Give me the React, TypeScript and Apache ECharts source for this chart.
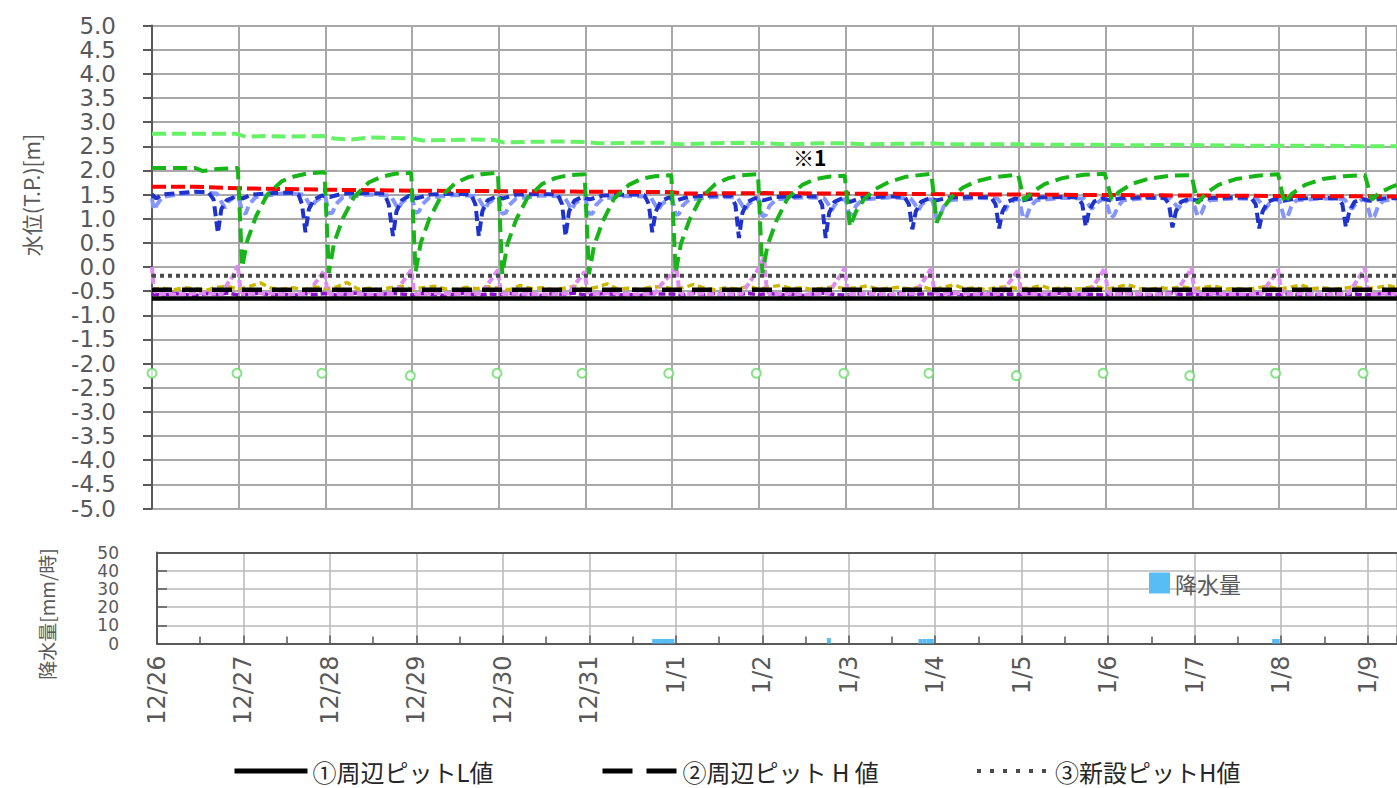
import React, { useEffect, useRef } from "react";
import * as echarts from "echarts";

// ---- categories / ticks ----
const dayLabels = ["12/26", "12/27", "12/28", "12/29", "12/30", "12/31", "1/1", "1/2", "1/3", "1/4", "1/5", "1/6", "1/7", "1/8", "1/9"];
const X_MAX_TOP = 14.36;
const X_MAX_BOTTOM = 14.34;

// ---- threshold lines (legend items) ----
const nameL1 = "①周辺ピットL値";
const nameH2 = "②周辺ピット H 値";
const nameH3 = "③新設ピットH値";
const valueL1 = -0.65;
const valueH2 = -0.47;
const valueH3 = -0.18;

// ---- water level series: [day offset from 12/26 00:00, T.P. m] ----
const lightGreenData = [[0,2.76],[0.96,2.76],[1.0,2.74],[1.08,2.70],[1.3,2.71],[1.6,2.70],[1.98,2.71],[2.1,2.66],[2.3,2.64],[2.5,2.68],[2.8,2.67],[3.0,2.66],[3.12,2.62],[3.4,2.63],[3.7,2.64],[3.95,2.63],[4.05,2.58],[4.3,2.59],[4.7,2.60],[5.0,2.59],[5.15,2.56],[5.5,2.57],[5.9,2.57],[6.1,2.54],[6.4,2.56],[6.8,2.57],[7.1,2.56],[7.3,2.54],[7.7,2.56],[8.0,2.56],[8.2,2.54],[8.6,2.55],[9.0,2.56],[9.2,2.54],[9.6,2.54],[10.0,2.54],[10.4,2.53],[10.9,2.53],[11.3,2.52],[11.8,2.53],[12.2,2.52],[12.6,2.51],[13.0,2.51],[13.5,2.51],[14.0,2.50],[14.36,2.50]];

const darkGreenData = [
  [0,2.05],[0.5,2.05],[0.58,1.99],[0.66,2.0],[0.75,2.03],[0.99,2.05],
  [1.04,0.0],[1.1,0.55],[1.2,1.05],[1.33,1.5],[1.5,1.78],[1.65,1.88],[1.8,1.94],[1.99,1.96],
  [2.04,-0.12],[2.1,0.5],[2.2,1.0],[2.33,1.45],[2.5,1.75],[2.65,1.87],[2.8,1.93],[2.99,1.95],
  [3.04,-0.1],[3.1,0.5],[3.2,1.0],[3.33,1.45],[3.5,1.74],[3.65,1.86],[3.8,1.92],[3.99,1.95],
  [4.04,-0.15],[4.1,0.48],[4.2,0.98],[4.33,1.43],[4.5,1.72],[4.65,1.84],[4.8,1.9],[4.99,1.92],
  [5.04,-0.15],[5.1,0.45],[5.2,0.95],[5.33,1.42],[5.5,1.7],[5.65,1.83],[5.8,1.88],[5.99,1.9],
  [6.04,-0.12],[6.1,0.48],[6.2,0.98],[6.33,1.43],[6.5,1.72],[6.65,1.84],[6.8,1.9],[6.99,1.92],
  [7.04,-0.13],[7.1,0.45],[7.2,0.95],[7.33,1.42],[7.5,1.7],[7.65,1.82],[7.8,1.87],[7.99,1.89],
  [8.05,0.83],[8.12,1.15],[8.22,1.42],[8.35,1.62],[8.5,1.76],[8.7,1.87],[8.99,1.93],
  [9.05,0.92],[9.12,1.2],[9.22,1.45],[9.35,1.64],[9.5,1.77],[9.7,1.86],[9.99,1.91],
  [10.06,1.38],[10.15,1.55],[10.3,1.72],[10.5,1.84],[10.75,1.91],[10.99,1.93],
  [11.07,1.39],[11.15,1.55],[11.3,1.72],[11.5,1.83],[11.75,1.89],[11.99,1.9],
  [12.06,1.32],[12.15,1.52],[12.3,1.7],[12.5,1.82],[12.75,1.89],[12.99,1.92],
  [13.06,1.32],[13.15,1.52],[13.3,1.7],[13.5,1.82],[13.75,1.88],[13.99,1.9],
  [14.07,1.39],[14.15,1.53],[14.3,1.66],[14.36,1.7]
];

const redData = [[0,1.66],[0.5,1.66],[1,1.63],[2,1.6],[3,1.58],[4,1.57],[5,1.56],[6,1.55],[6.15,1.52],[7,1.53],[8,1.52],[9,1.51],[10,1.5],[11,1.49],[12,1.48],[13,1.47],[14.36,1.46]];

const darkBlueData = [
  [0,1.5],[0.05,1.42],[0.12,1.5],[0.3,1.53],[0.5,1.56],[0.65,1.55],[0.71,1.4],[0.76,0.7],[0.8,1.2],[0.86,1.38],[0.95,1.45],
  [1.05,1.42],[1.15,1.5],[1.4,1.53],[1.6,1.54],[1.69,1.5],[1.73,1.3],[1.77,0.72],[1.81,1.2],[1.87,1.4],[1.96,1.48],
  [2.05,1.45],[2.2,1.52],[2.5,1.53],[2.68,1.52],[2.73,1.3],[2.78,0.64],[2.82,1.15],[2.88,1.38],[2.96,1.47],
  [3.05,1.42],[3.2,1.5],[3.5,1.52],[3.68,1.5],[3.73,1.3],[3.77,0.64],[3.81,1.15],[3.87,1.38],[3.96,1.45],
  [4.05,1.42],[4.2,1.5],[4.5,1.51],[4.68,1.5],[4.73,1.3],[4.77,0.64],[4.81,1.15],[4.87,1.37],[4.96,1.45],
  [5.05,1.4],[5.2,1.48],[5.5,1.5],[5.68,1.49],[5.73,1.3],[5.77,0.72],[5.81,1.15],[5.87,1.36],[5.96,1.44],
  [6.05,1.38],[6.2,1.46],[6.5,1.48],[6.68,1.47],[6.73,1.28],[6.77,0.6],[6.81,1.12],[6.87,1.35],[6.96,1.43],
  [7.05,1.38],[7.2,1.45],[7.5,1.47],[7.68,1.46],[7.73,1.28],[7.77,0.6],[7.81,1.12],[7.87,1.35],[7.96,1.42],
  [8.05,1.35],[8.2,1.44],[8.5,1.46],[8.68,1.45],[8.73,1.3],[8.77,0.78],[8.81,1.15],[8.87,1.35],[8.96,1.42],
  [9.05,1.38],[9.2,1.44],[9.5,1.45],[9.68,1.44],[9.73,1.3],[9.77,0.8],[9.81,1.15],[9.87,1.35],[9.96,1.42],
  [10.05,1.38],[10.2,1.44],[10.5,1.45],[10.68,1.44],[10.73,1.3],[10.77,0.84],[10.81,1.18],[10.87,1.36],[10.96,1.42],
  [11.05,1.38],[11.2,1.43],[11.5,1.44],[11.68,1.43],[11.73,1.3],[11.77,0.82],[11.81,1.15],[11.87,1.35],[11.96,1.41],
  [12.05,1.38],[12.2,1.43],[12.5,1.44],[12.68,1.43],[12.73,1.3],[12.77,0.8],[12.81,1.15],[12.87,1.35],[12.96,1.41],
  [13.05,1.37],[13.2,1.42],[13.5,1.43],[13.68,1.42],[13.73,1.3],[13.77,0.83],[13.81,1.15],[13.87,1.35],[13.96,1.41],
  [14.05,1.37],[14.2,1.42],[14.36,1.43]
];

const lightBlueData = [
  [0,1.42],[0.02,1.18],[0.06,1.3],[0.12,1.45],[0.3,1.5],[0.55,1.55],[0.75,1.52],[0.8,1.35],[0.84,1.22],[0.88,1.35],[0.95,1.45],
  [1.0,1.45],[1.04,1.15],[1.08,1.1],[1.12,1.3],[1.2,1.45],[1.5,1.52],[1.75,1.5],[1.8,1.35],[1.84,1.22],[1.88,1.35],[1.96,1.45],
  [2.0,1.45],[2.04,1.12],[2.08,1.12],[2.12,1.3],[2.2,1.44],[2.5,1.5],[2.75,1.48],[2.8,1.33],[2.84,1.2],[2.88,1.33],[2.96,1.44],
  [3.0,1.44],[3.04,1.12],[3.08,1.15],[3.12,1.3],[3.2,1.44],[3.5,1.49],[3.75,1.47],[3.8,1.32],[3.84,1.2],[3.88,1.32],[3.96,1.43],
  [4.0,1.43],[4.04,1.1],[4.08,1.12],[4.12,1.28],[4.2,1.42],[4.5,1.48],[4.75,1.46],[4.8,1.32],[4.84,1.18],[4.88,1.32],[4.96,1.42],
  [5.0,1.42],[5.04,1.1],[5.08,1.1],[5.12,1.28],[5.2,1.42],[5.5,1.47],[5.75,1.45],[5.8,1.3],[5.84,1.18],[5.88,1.3],[5.96,1.41],
  [6.0,1.41],[6.04,1.08],[6.08,1.1],[6.12,1.27],[6.2,1.4],[6.5,1.45],[6.75,1.44],[6.8,1.3],[6.84,1.17],[6.88,1.3],[6.96,1.4],
  [7.0,1.4],[7.04,1.05],[7.08,1.08],[7.12,1.26],[7.2,1.4],[7.5,1.44],[7.75,1.43],[7.8,1.3],[7.84,1.17],[7.88,1.3],[7.96,1.4],
  [8.0,1.4],[8.04,1.08],[8.08,1.1],[8.12,1.27],[8.2,1.4],[8.5,1.44],[8.75,1.42],[8.8,1.3],[8.84,1.17],[8.88,1.3],[8.96,1.4],
  [9.0,1.4],[9.05,1.0],[9.09,1.05],[9.13,1.25],[9.2,1.38],[9.5,1.43],[9.75,1.42],[9.8,1.3],[9.84,1.17],[9.88,1.3],[9.96,1.4],
  [10.0,1.4],[10.05,1.0],[10.09,1.05],[10.13,1.25],[10.2,1.38],[10.5,1.43],[10.75,1.42],[10.8,1.3],[10.84,1.2],[10.88,1.3],[10.96,1.4],
  [11.0,1.4],[11.06,1.01],[11.1,1.08],[11.14,1.25],[11.2,1.38],[11.5,1.43],[11.75,1.42],[11.8,1.3],[11.84,1.22],[11.88,1.3],[11.96,1.4],
  [12.0,1.4],[12.06,1.05],[12.1,1.1],[12.14,1.27],[12.2,1.38],[12.5,1.42],[12.75,1.41],[12.8,1.3],[12.84,1.2],[12.88,1.3],[12.96,1.4],
  [13.0,1.4],[13.06,1.0],[13.1,1.05],[13.14,1.25],[13.2,1.38],[13.5,1.42],[13.75,1.41],[13.8,1.3],[13.84,1.2],[13.88,1.3],[13.96,1.4],
  [14.0,1.4],[14.06,1.0],[14.1,1.05],[14.14,1.25],[14.2,1.37],[14.36,1.41]
];

const violetData = [
  [0,0.0],[0.02,-0.45],[0.05,-0.55],[0.3,-0.57],[0.55,-0.54],[0.8,-0.56],[0.87,-0.35],[0.93,-0.2],[0.99,0.03],
  [1.02,-0.48],[1.05,-0.56],[1.3,-0.54],[1.55,-0.57],[1.8,-0.55],[1.87,-0.36],[1.93,-0.22],[1.99,-0.07],
  [2.02,-0.48],[2.05,-0.56],[2.3,-0.55],[2.55,-0.57],[2.8,-0.55],[2.87,-0.36],[2.93,-0.22],[2.99,-0.06],
  [3.02,-0.48],[3.05,-0.57],[3.3,-0.54],[3.55,-0.56],[3.8,-0.55],[3.87,-0.36],[3.93,-0.22],[3.99,-0.06],
  [4.02,-0.48],[4.05,-0.56],[4.3,-0.55],[4.55,-0.57],[4.8,-0.55],[4.87,-0.38],[4.93,-0.24],[4.99,-0.1],
  [5.02,-0.48],[5.05,-0.56],[5.3,-0.54],[5.55,-0.57],[5.8,-0.55],[5.88,-0.35],[5.97,-0.18],[6.05,0.0],
  [6.08,-0.48],[6.11,-0.56],[6.3,-0.55],[6.55,-0.57],[6.8,-0.55],[6.9,-0.3],[6.99,-0.05],[7.06,0.2],
  [7.09,-0.45],[7.12,-0.56],[7.3,-0.55],[7.55,-0.57],[7.8,-0.55],[7.87,-0.36],[7.93,-0.2],[7.99,-0.02],
  [8.02,-0.48],[8.05,-0.56],[8.3,-0.55],[8.55,-0.57],[8.8,-0.55],[8.87,-0.36],[8.93,-0.2],[8.99,-0.02],
  [9.02,-0.48],[9.05,-0.56],[9.3,-0.54],[9.55,-0.57],[9.8,-0.55],[9.87,-0.36],[9.93,-0.22],[9.99,-0.06],
  [10.02,-0.48],[10.05,-0.56],[10.3,-0.55],[10.55,-0.57],[10.8,-0.55],[10.87,-0.36],[10.93,-0.2],[10.99,-0.02],
  [11.02,-0.48],[11.05,-0.56],[11.3,-0.55],[11.55,-0.57],[11.8,-0.55],[11.87,-0.36],[11.93,-0.2],[11.99,-0.02],
  [12.02,-0.48],[12.05,-0.56],[12.3,-0.55],[12.55,-0.57],[12.8,-0.55],[12.87,-0.36],[12.93,-0.22],[12.99,-0.06],
  [13.02,-0.48],[13.05,-0.56],[13.3,-0.55],[13.55,-0.57],[13.8,-0.55],[13.87,-0.36],[13.93,-0.2],[13.99,-0.02],
  [14.02,-0.48],[14.05,-0.56],[14.36,-0.55]
];

// 3-hourly readings (step 0.125 day from 12/26 00:00)
const SAMPLE_STEP = 0.125;
const yellowValues = [
  -0.46,-0.44,-0.47,-0.43,-0.45,-0.48,-0.42,-0.40,
  -0.47,-0.40,-0.33,-0.44,-0.46,-0.43,-0.47,-0.41,
  -0.45,-0.42,-0.32,-0.46,-0.44,-0.47,-0.43,-0.40,
  -0.46,-0.43,-0.40,-0.45,-0.47,-0.42,-0.45,-0.41,
  -0.44,-0.47,-0.38,-0.45,-0.43,-0.47,-0.44,-0.40,
  -0.46,-0.42,-0.35,-0.46,-0.44,-0.47,-0.42,-0.41,
  -0.45,-0.43,-0.36,-0.44,-0.47,-0.43,-0.46,-0.40,
  -0.46,-0.41,-0.38,-0.45,-0.43,-0.47,-0.44,-0.41,
  -0.45,-0.43,-0.39,-0.46,-0.44,-0.42,-0.46,-0.40,
  -0.47,-0.42,-0.37,-0.45,-0.43,-0.47,-0.42,-0.41,
  -0.45,-0.44,-0.38,-0.46,-0.43,-0.46,-0.44,-0.40,
  -0.46,-0.42,-0.36,-0.44,-0.47,-0.43,-0.45,-0.41,
  -0.45,-0.43,-0.39,-0.46,-0.44,-0.47,-0.43,-0.40,
  -0.46,-0.42,-0.37,-0.45,-0.43,-0.46,-0.44,-0.41,
  -0.45,-0.43,-0.38,-0.44
];
const purpleValues = [
  -0.56,-0.58,-0.55,-0.57,-0.59,-0.55,-0.57,-0.54,
  -0.58,-0.56,-0.54,-0.58,-0.56,-0.59,-0.55,-0.57,
  -0.55,-0.58,-0.56,-0.54,-0.58,-0.57,-0.55,-0.56,
  -0.58,-0.55,-0.57,-0.59,-0.56,-0.54,-0.58,-0.56,
  -0.57,-0.55,-0.58,-0.56,-0.59,-0.55,-0.57,-0.54,
  -0.58,-0.56,-0.55,-0.58,-0.57,-0.59,-0.55,-0.56,
  -0.56,-0.58,-0.54,-0.57,-0.55,-0.58,-0.56,-0.55,
  -0.57,-0.55,-0.58,-0.56,-0.59,-0.56,-0.54,-0.57,
  -0.58,-0.56,-0.55,-0.57,-0.58,-0.55,-0.57,-0.56,
  -0.56,-0.58,-0.55,-0.59,-0.57,-0.55,-0.58,-0.56,
  -0.57,-0.55,-0.58,-0.56,-0.54,-0.58,-0.56,-0.57,
  -0.58,-0.56,-0.55,-0.57,-0.59,-0.56,-0.54,-0.57,
  -0.56,-0.58,-0.55,-0.57,-0.56,-0.58,-0.55,-0.57,
  -0.57,-0.55,-0.58,-0.56,-0.59,-0.55,-0.57,-0.56,
  -0.58,-0.56,-0.55,-0.57
];

const circleData = [[0,-2.2],[0.98,-2.2],[1.96,-2.2],[2.98,-2.25],[3.98,-2.2],[4.96,-2.2],[5.96,-2.2],[6.97,-2.2],[7.98,-2.2],[8.96,-2.2],[9.97,-2.25],[10.97,-2.2],[11.97,-2.25],[12.96,-2.2],[13.97,-2.2]];

// ---- rainfall [day offset, mm/h] ----
const rainName = "降水量";
const rainData = [[5.75,2.5],[5.79,2.5],[5.83,2.5],[5.875,2.5],[5.92,2.5],[5.96,2.5],[7.77,3],[8.83,2.5],[8.875,2.5],[8.92,2.5],[8.96,2.5],[12.92,2.5],[12.96,2.5]];

const FONT = "'DejaVu Sans', 'Noto Sans CJK JP', sans-serif";
const JP_FONT = "'Noto Sans CJK JP', sans-serif";
const AXIS_GRAY = "#595959";
const GRID_GRAY = "#a8a8a8";

function sampled(values: number[]) {
  return values.map((v, i) => [i * SAMPLE_STEP, v]);
}

function lineSeries(name: string, data: any[], color: string, width: number, type: any, z: number) {
  return {
    type: "line",
    name,
    data,
    xAxisIndex: 0,
    yAxisIndex: 0,
    symbol: "none",
    silent: true,
    z,
    itemStyle: { color },
    lineStyle: { color, width, type, cap: "butt" },
  };
}

export default function App() {
  const ref = useRef<HTMLDivElement>(null);
  useEffect(() => {
    if (!ref.current) return;
    const chart = echarts.init(ref.current, null, { renderer: "svg" });
    const dayFormatter = (v: number) => {
      const r = Math.round(v);
      return Math.abs(v - r) < 1e-6 && dayLabels[r] ? dayLabels[r] : "";
    };
    const legendText = { fontSize: 24, color: "#262626", fontFamily: JP_FONT };
    const option: any = {
      animation: false,
      textStyle: { fontFamily: FONT },
      grid: [
        { left: 152, top: 25.5, right: 0, height: 483 },
        { left: 157, top: 552.5, right: 0, height: 91 },
      ],
      xAxis: [
        {
          gridIndex: 0, type: "value", min: 0, max: X_MAX_TOP, interval: 1,
          axisLabel: { show: false }, axisTick: { show: false }, axisLine: { show: false },
          splitLine: { show: true, lineStyle: { color: GRID_GRAY, width: 2 } },
        },
        {
          gridIndex: 1, type: "value", min: 0, max: X_MAX_BOTTOM, interval: 1,
          axisLine: { show: true, onZero: false, lineStyle: { color: AXIS_GRAY, width: 2 } },
          axisTick: { show: true, inside: true, length: 8, lineStyle: { color: AXIS_GRAY, width: 1.5 } },
          minorTick: { show: true, splitNumber: 2, length: 7, lineStyle: { color: AXIS_GRAY, width: 1.5 } },
          splitLine: { show: true, lineStyle: { color: "#b8b8b8", width: 1.5 } },
          axisLabel: { rotate: 90, margin: 12, fontSize: 24, color: AXIS_GRAY, formatter: dayFormatter, showMaxLabel: false },
        },
        {
          gridIndex: 1, type: "value", position: "top", min: 0, max: X_MAX_BOTTOM,
          axisLine: { show: true, onZero: false, lineStyle: { color: AXIS_GRAY, width: 2 } },
          axisTick: { show: false }, axisLabel: { show: false }, splitLine: { show: false },
        },
      ],
      yAxis: [
        {
          gridIndex: 0, type: "value", min: -5, max: 5, interval: 0.5,
          axisLine: { show: true, lineStyle: { color: AXIS_GRAY, width: 2 } },
          axisTick: { show: true, length: 9, lineStyle: { color: AXIS_GRAY, width: 2 } },
          axisLabel: {
            margin: 36, fontSize: 23, color: AXIS_GRAY, padding: [0, 0, 7, 0],
            showMinLabel: true, showMaxLabel: true, hideOverlap: false,
            formatter: (v: number) => (Math.abs(v) < 1e-9 ? "0.0" : v.toFixed(1)),
          },
          splitLine: { show: true, lineStyle: { color: GRID_GRAY, width: 2 } },
        },
        {
          gridIndex: 1, type: "value", min: 0, max: 50, interval: 10,
          axisLine: { show: true, lineStyle: { color: AXIS_GRAY, width: 2 } },
          axisTick: { show: true, inside: true, length: 10, lineStyle: { color: AXIS_GRAY, width: 1.5 } },
          axisLabel: {
            margin: 38, fontSize: 17, lineHeight: 10, color: AXIS_GRAY,
            showMinLabel: true, showMaxLabel: true, hideOverlap: false,
          },
          splitLine: { show: true, lineStyle: { color: "#b8b8b8", width: 1.5 } },
        },
      ],
      legend: [
        {
          data: [nameL1], left: 232, top: 759, padding: 0, itemWidth: 73, itemHeight: 14, selectedMode: false,
          lineStyle: { width: 5 }, itemStyle: { opacity: 0 },
          textStyle: legendText,
        },
        {
          data: [nameH2], left: 600, top: 759, padding: 0, itemWidth: 75, itemHeight: 14, selectedMode: false,
          lineStyle: { width: 5, type: [30, 14] }, itemStyle: { opacity: 0 },
          textStyle: legendText,
        },
        {
          data: [nameH3], left: 975, top: 759, padding: 0, itemWidth: 73, itemHeight: 14, selectedMode: false,
          lineStyle: { width: 4, type: [4, 9] }, itemStyle: { opacity: 0 },
          textStyle: legendText,
        },
        {
          data: [{ name: rainName, icon: "rect" }], left: 1149, top: 572, padding: 0, itemWidth: 21, itemHeight: 21,
          selectedMode: false,
          textStyle: { fontSize: 22, color: AXIS_GRAY, fontFamily: JP_FONT },
        },
      ],
      graphic: [
        {
          type: "text", x: 31, y: 195, rotation: Math.PI / 2,
          style: { text: "水位(T.P.)[m]", fontSize: 21, fill: AXIS_GRAY, align: "center", verticalAlign: "middle", fontFamily: JP_FONT },
        },
        {
          type: "text", x: 46, y: 614, rotation: Math.PI / 2,
          style: { text: "降水量[mm/時]", fontSize: 19, fill: AXIS_GRAY, align: "center", verticalAlign: "middle", fontFamily: JP_FONT },
        },
        {
          type: "text", x: 793, y: 157,
          style: { text: "※1", fontSize: 21, fontWeight: "bold", fill: "#000", align: "left", verticalAlign: "middle", fontFamily: JP_FONT },
        },
      ],
      series: [
        lineSeries("purple", sampled(purpleValues), "#8a10cc", 3.5, [7, 3], 2),
        lineSeries("yellow", sampled(yellowValues), "#cdb800", 3.5, [7, 4], 3),
        lineSeries("violet", violetData, "#df8cf2", 4, [7, 3], 4),
        lineSeries(nameL1, [[0, valueL1], [X_MAX_TOP, valueL1]], "#000000", 4.5, "solid", 5),
        lineSeries(nameH2, [[0, valueH2], [X_MAX_TOP, valueH2]], "#000000", 4.5, [20, 10], 5),
        lineSeries(nameH3, [[0, valueH3], [X_MAX_TOP, valueH3]], "#4a4a4a", 4, [4, 4], 5),
        lineSeries("lightBlue", lightBlueData, "#8595ff", 4, [10, 5], 6),
        lineSeries("darkBlue", darkBlueData, "#1f33cc", 4, [10, 5], 7),
        lineSeries("red", redData, "#ff0000", 4, [14, 5], 8),
        lineSeries("darkGreen", darkGreenData, "#17b517", 4, [14, 7], 9),
        lineSeries("lightGreen", lightGreenData, "#66f266", 4, [14, 6], 9),
        {
          type: "scatter", name: "circles", data: circleData, xAxisIndex: 0, yAxisIndex: 0,
          symbol: "emptyCircle", symbolSize: 9, silent: true, z: 10,
          itemStyle: { color: "#66dd66", borderColor: "#66dd66", borderWidth: 2 },
        },
        {
          type: "bar", name: rainName, data: rainData, xAxisIndex: 1, yAxisIndex: 1,
          barWidth: 4, silent: true, itemStyle: { color: "#58bdf5" },
        },
      ],
    };
    chart.setOption(option);
    return () => chart.dispose();
  }, []);
  return <div ref={ref} style={{ position: "absolute", left: 0, top: 0, width: 1397, height: 788 }} />;
}
